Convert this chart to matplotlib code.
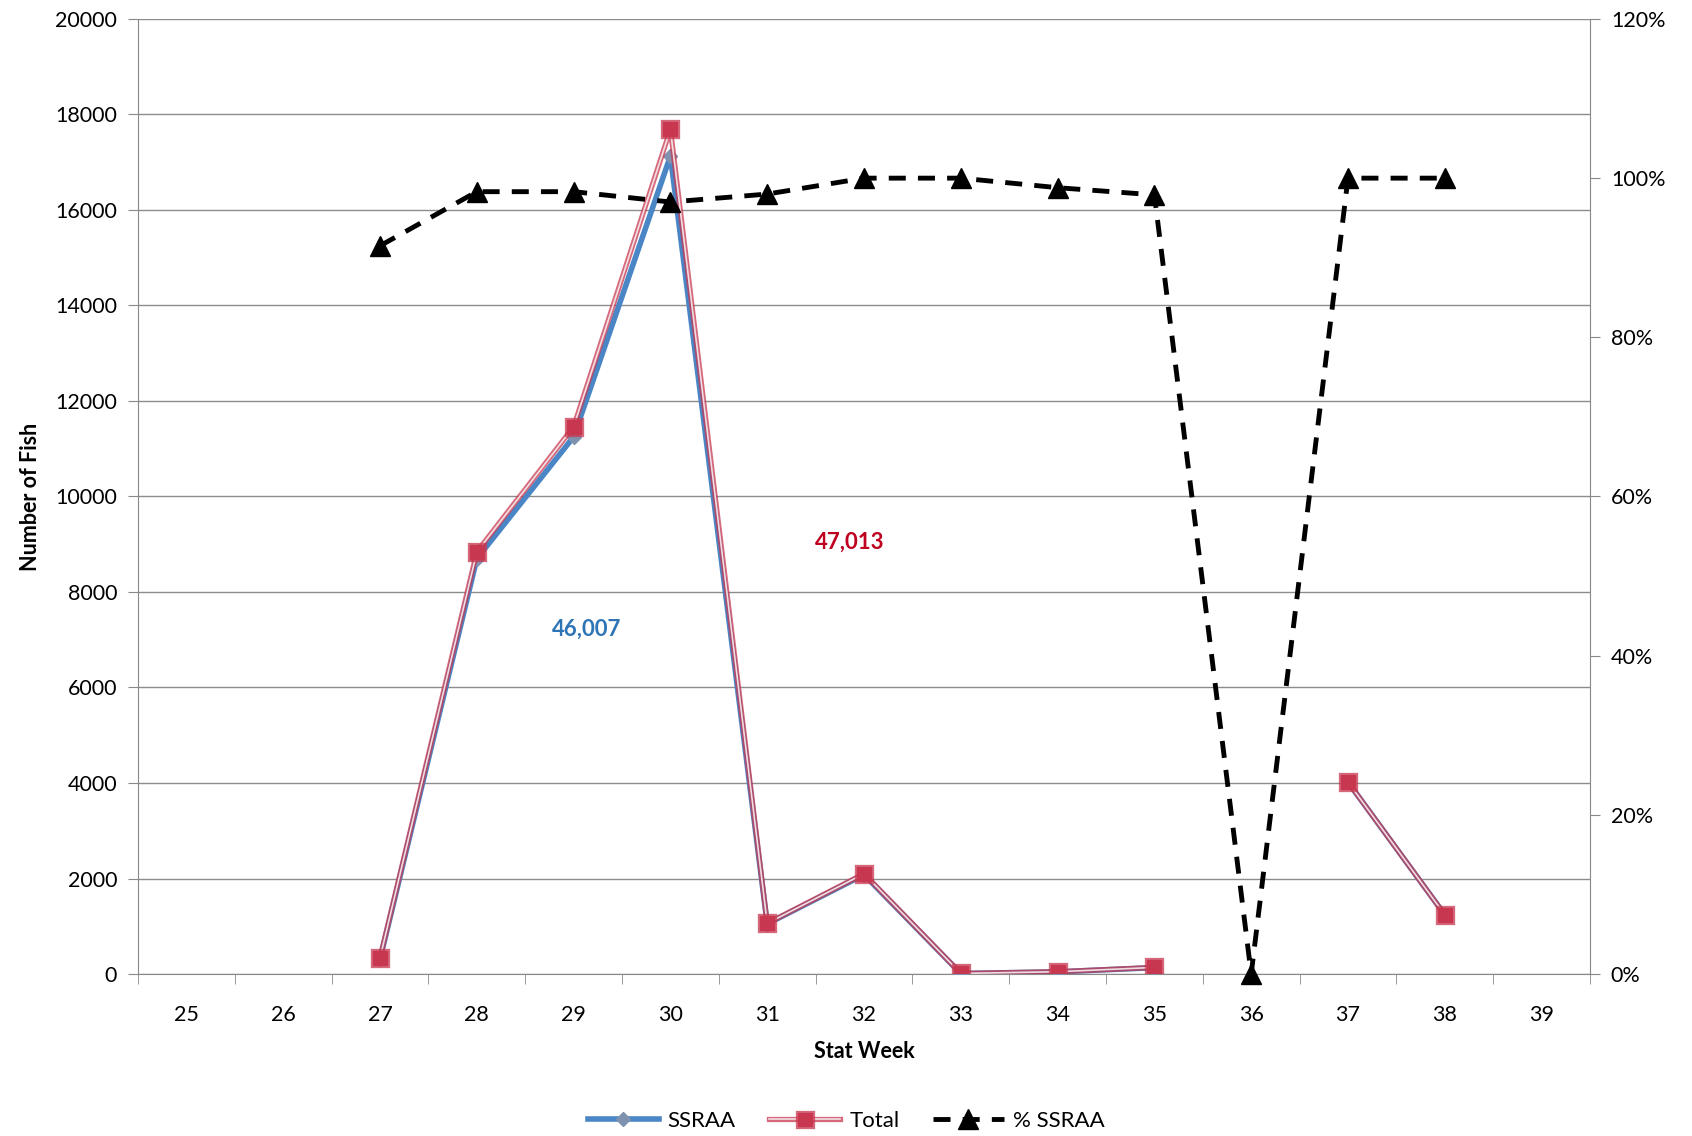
import matplotlib
matplotlib.use('Agg')
import matplotlib.pyplot as plt
import matplotlib.patheffects as pe
import numpy as np

plt.rcParams['font.family'] = ['Lato', 'DejaVu Sans']

# stat weeks 25..39 (category axis)
weeks = [25, 26, 27, 28, 29, 30, 31, 32, 33, 34, 35, 36, 37, 38, 39]
ssraa = [np.nan, np.nan, 315, 8700, 11250, 17130, 1050, 2080, 10, 45, 133, np.nan, 4020, 1240, np.nan]
total = [np.nan, np.nan, 340, 8840, 11460, 17690, 1060, 2100, 12, 48, 138, np.nan, 4020, 1240, np.nan]
pct_ssraa = [np.nan, np.nan, 0.915, 0.983, 0.983, 0.97, 0.98, 1.0, 1.0, 0.988, 0.979, 0.0, 1.0, 1.0, np.nan]

ssraa_label = '46,007'
total_label = '47,013'

blue = '#4a86c5'
red = '#c8374f'

fig = plt.figure(figsize=(16.92, 11.36), dpi=100)
ax = fig.add_axes([0.0816, 0.1426, 0.8581, 0.8407])

ax.plot(weeks, ssraa, color=blue, lw=4, marker='D', ms=7,
        mfc='#7f93b0', mec='#7f93b0', label='SSRAA', zorder=3)
# double red line with white core
ax.plot(weeks, total, color='#f4e6ea', lw=1.2, marker='s', ms=10,
        mfc=red, mec=red, label='Total', zorder=4, alpha=0.95,
        path_effects=[pe.Stroke(linewidth=3.8, foreground=red, alpha=0.75), pe.Normal()])

ax.set_xlim(24.5, 39.5)
ax.set_ylim(0, 20000)
ax.set_yticks(np.arange(0, 20001, 2000))
ax.set_xticks(weeks)
ax.set_xticks(np.arange(24.5, 39.6, 1), minor=True)
ax.tick_params(axis='x', which='major', length=0, labelsize=15.5, pad=22)
ax.tick_params(axis='x', which='minor', length=7, color='#888888', direction='out')
ax.tick_params(axis='y', labelsize=15.5, length=7, color='#888888', pad=8)
ax.grid(axis='y', color='#8c8c8c', lw=1)
ax.set_axisbelow(True)
for s in ['top', 'right']:
    ax.spines[s].set_visible(False)
for s in ['left', 'bottom']:
    ax.spines[s].set_color('#888888')

ax.set_xlabel('Stat Week', fontsize=15.5, fontweight='bold', labelpad=12)
ax.set_ylabel('Number of Fish', fontsize=15.5, fontweight='bold', labelpad=10)

ax.text(29.13, 7230, ssraa_label, color='#2e75b6', fontsize=16, fontweight='bold', ha='center', va='center')
ax.text(31.85, 9040, total_label, color='#c00020', fontsize=16, fontweight='bold', ha='center', va='center')

ax2 = ax.twinx()
ax2.set_position(ax.get_position())
ax2.plot(weeks, pct_ssraa, color='black', lw=3.5, ls=(0, (3.5, 2.5)), marker='^', ms=15,
         mfc='black', mec='black', label='% SSRAA', zorder=5, clip_on=False)
ax2.set_ylim(0, 1.2)
ax2.set_yticks(np.arange(0, 1.21, 0.2))
ax2.set_yticklabels(['%d%%' % round(v * 100) for v in np.arange(0, 1.21, 0.2)])
ax2.tick_params(axis='y', labelsize=15.5, length=7, color='#888888', pad=8)
for s in ['top', 'left', 'bottom']:
    ax2.spines[s].set_visible(False)
ax2.spines['right'].set_color('#888888')
ax2.set_zorder(ax.get_zorder() + 1)
ax2.patch.set_visible(False)

h1, l1 = ax.get_legend_handles_labels()
h2, l2 = ax2.get_legend_handles_labels()
fig.legend(h1 + h2, l1 + l2, loc='center', bbox_to_anchor=(0.5, 0.013), ncol=3,
           frameon=False, fontsize=16, handlelength=3.2, columnspacing=1.5, handletextpad=0.4)

fig.savefig('out.png', dpi=100)
